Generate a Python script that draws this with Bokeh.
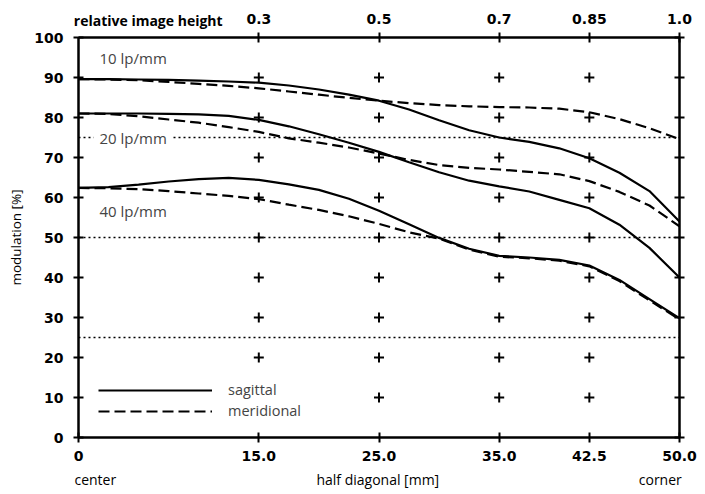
from bokeh.plotting import figure
from bokeh.models import (Range1d, LinearAxis, FixedTicker, Span, Label,
                          Legend, LegendItem)
from bokeh.embed import file_html
from bokeh.resources import INLINE

# ---------------- data ----------------
half_diag = [0, 2.5, 5, 7.5, 10, 12.5, 15, 17.5, 20, 22.5, 25, 27.5, 30,
             32.5, 35, 37.5, 40, 42.5, 45, 47.5, 50]

sag_10 = [89.6, 89.6, 89.5, 89.4, 89.2, 89.0, 88.7, 88.0, 87.0, 85.7, 84.2,
          82.0, 79.3, 76.8, 75.0, 73.9, 72.3, 69.8, 66.2, 61.6, 54.0]
mer_10 = [89.6, 89.5, 89.3, 88.9, 88.4, 87.9, 87.3, 86.5, 85.7, 84.9, 84.2,
          83.6, 83.1, 82.8, 82.6, 82.5, 82.2, 81.3, 79.6, 77.3, 74.6]

sag_20 = [81.0, 81.0, 81.0, 80.9, 80.8, 80.4, 79.4, 77.8, 75.8, 73.7, 71.4,
          68.8, 66.3, 64.2, 62.8, 61.5, 59.4, 57.3, 53.2, 47.4, 40.0]
mer_20 = [81.0, 80.9, 80.3, 79.5, 78.7, 77.6, 76.4, 74.8, 73.7, 72.5, 71.0,
          69.4, 68.1, 67.4, 67.0, 66.4, 65.8, 64.1, 61.4, 58.0, 52.8]

sag_40 = [62.4, 62.6, 63.2, 64.0, 64.6, 64.9, 64.4, 63.3, 61.9, 59.7, 56.7,
          53.3, 49.9, 47.2, 45.4, 45.0, 44.4, 43.0, 39.4, 34.6, 29.8]
mer_40 = [62.4, 62.3, 62.1, 61.6, 61.0, 60.4, 59.6, 58.2, 56.9, 55.3, 53.4,
          51.3, 49.7, 47.0, 45.2, 44.8, 44.2, 42.8, 39.1, 34.3, 29.5]

x_ticks = [0, 15, 25, 35, 42.5, 50]
x_tick_labels = ["0", "15.0", "25.0", "35.0", "42.5", "50.0"]
rel_ticks = [15, 25, 35, 42.5, 50]
rel_tick_labels = ["0.3", "0.5", "0.7", "0.85", "1.0"]
y_ticks = [0, 10, 20, 30, 40, 50, 60, 70, 80, 90, 100]
ref_levels = [75, 50, 25]
freq_labels = ["10 lp/mm", "20 lp/mm", "40 lp/mm"]
legend_labels = ["sagittal", "meridional"]
bottom_texts = ["center", "half diagonal [mm]", "corner"]
top_text = "relative image height"

# text anchor positions (x in mm / y in %)
bottom_text_x = [1.4, 24.9, 48.4]
top_text_x = 5.8
freq_label_y = [94.8, 75, 56.6]

# ---------------- figure ----------------
TXT = "Open Sans"
NUM = "DejaVu Sans"

p = figure(width=697, height=494, x_range=Range1d(0, 50), y_range=Range1d(0, 100),
           output_backend="svg", toolbar_location=None,
           x_axis_location=None, y_axis_location=None,
           min_border_left=78, min_border_right=18, min_border_top=37,
           min_border_bottom=57, outline_line_color=None)
p.grid.visible = False


def tick_axis(ticks, overrides=None):
    ax = LinearAxis(ticker=FixedTicker(ticks=ticks))
    ax.axis_line_width = 2.5
    ax.axis_line_color = "black"
    ax.major_tick_in = 5
    ax.major_tick_out = 5
    ax.major_tick_line_width = 2
    ax.major_tick_line_color = "black"
    ax.minor_tick_line_color = None
    if overrides is None:
        ax.major_label_text_alpha = 0
        ax.major_label_text_font_size = "1px"
        ax.major_label_standoff = 0
    else:
        ax.major_label_overrides = overrides
        ax.major_label_text_font = NUM
        ax.major_label_text_font_size = "14px"
        ax.major_label_text_font_style = "bold"
        ax.major_label_text_color = "black"
    return ax


def text_axis(ticks, labels, font, size, style, standoff):
    ax = LinearAxis(ticker=FixedTicker(ticks=ticks),
                    major_label_overrides={float(k): v for k, v in zip(ticks, labels)})
    ax.axis_line_color = None
    ax.major_tick_line_color = None
    ax.minor_tick_line_color = None
    ax.major_tick_in = 0
    ax.major_tick_out = 0
    ax.major_label_standoff = standoff
    ax.major_label_text_font = font
    ax.major_label_text_font_size = size
    ax.major_label_text_font_style = style
    ax.major_label_text_color = "black"
    return ax


# left axis with numbers and title
left = tick_axis(y_ticks, {float(v): str(v) for v in y_ticks})
left.major_label_standoff = 10
left.axis_label = "modulation [%]"
left.axis_label_text_font = TXT
left.axis_label_text_font_size = "13.5px"
left.axis_label_text_font_style = "normal"
left.axis_label_text_color = "black"
left.axis_label_standoff = 6
p.add_layout(left, "left")

# right axis: ticks only
p.add_layout(tick_axis(y_ticks), "right")

# bottom: ticks + numbers, then text row
bottom = tick_axis(x_ticks, {float(k): v for k, v in zip(x_ticks, x_tick_labels)})
bottom.major_label_standoff = 8
p.add_layout(bottom, "below")
p.add_layout(text_axis(bottom_text_x, bottom_texts, TXT, "14px", "normal", 6), "below")

# top: ticks only, then numbers row, then title on same row
p.add_layout(tick_axis(rel_ticks), "above")
p.add_layout(text_axis(rel_ticks, rel_tick_labels, NUM, "14px", "bold", 9), "above")
p.add_layout(text_axis([top_text_x], [top_text], TXT, "14px", "bold", -19), "above")

# reference dotted lines
for lv in ref_levels:
    p.add_layout(Span(location=lv, dimension="width", line_dash="2 3",
                      line_width=1.3, line_color="black", level="underlay"))

# grid crosses
inner_x = x_ticks[1:-1]
inner_y = y_ticks[1:-1]
gx = [x for x in inner_x for y in inner_y]
gy = [y for x in inner_x for y in inner_y]
p.scatter(gx, gy, marker="cross", size=10, line_width=2, color="black")

# curves
DASH = "11 5"
LW = 2.2
r_s10 = p.line(half_diag, sag_10, line_width=LW, color="black")
r_m10 = p.line(half_diag, mer_10, line_width=LW, color="black", line_dash=DASH)
p.line(half_diag, sag_20, line_width=LW, color="black")
p.line(half_diag, mer_20, line_width=LW, color="black", line_dash=DASH)
p.line(half_diag, sag_40, line_width=LW, color="black")
p.line(half_diag, mer_40, line_width=LW, color="black", line_dash=DASH)

# frequency labels
for txt, yy in zip(freq_labels, freq_label_y):
    p.add_layout(Label(x=0, y=yy, x_offset=15, text=txt, text_font=TXT,
                       text_font_size="15px", text_baseline="middle",
                       text_align="left", background_fill_color="white",
                       padding=6))

# legend
legend = Legend(items=[LegendItem(label=legend_labels[0], renderers=[r_s10]),
                       LegendItem(label=legend_labels[1], renderers=[r_m10])],
                location=(20, 17), glyph_width=114, glyph_height=18,
                label_standoff=16, spacing=2, padding=0, margin=0,
                border_line_color=None, background_fill_color="white",
                background_fill_alpha=1.0, label_text_font=TXT,
                label_text_font_size="14.5px", label_height=18)
p.add_layout(legend)

open("out.html", "w").write(file_html(p, INLINE))
